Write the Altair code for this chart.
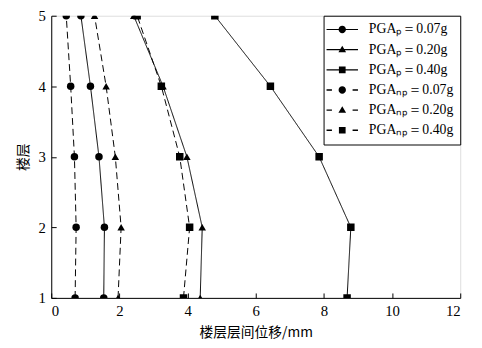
import altair as alt
import pandas as pd

floors = [1, 2, 3, 4, 5]
series_names = ["PGAₚ＝0.07g", "PGAₚ＝0.20g", "PGAₚ＝0.40g",
                "PGAₙₚ＝0.07g", "PGAₙₚ＝0.20g", "PGAₙₚ＝0.40g"]
p007 = [1.54, 1.56, 1.40, 1.15, 0.87]
p020 = [4.37, 4.43, 3.98, 3.28, 2.42]
p040 = [8.68, 8.79, 7.86, 6.43, 4.80]
np007 = [0.70, 0.73, 0.68, 0.57, 0.44]
np020 = [1.96, 2.05, 1.88, 1.61, 1.27]
np040 = [3.88, 4.06, 3.77, 3.23, 2.52]
x_ticks = [0, 2, 4, 6, 8, 10, 12]
y_ticks = [1, 2, 3, 4, 5]

W, H = 416, 287

values = [p007, p020, p040, np007, np020, np040]
rows = []
for name, vals in zip(series_names, values):
    for f, v in zip(floors, vals):
        rows.append({"series": name, "floor": f, "disp": v})
df = pd.DataFrame(rows)

serif = "Liberation Serif"
cjk = "Noto Sans CJK SC"

xscale = alt.Scale(domain=[0, 12], nice=False)
yscale = alt.Scale(domain=[1, 5], nice=False)

X = alt.X("disp:Q", scale=xscale,
          axis=alt.Axis(values=x_ticks, title="楼层层间位移/mm", titleFont=cjk,
                        titleFontSize=14, titleFontWeight="normal", titleColor="black",
                        titlePadding=7,
                        labelFont=serif, labelFontSize=15, labelColor="black",
                        labelPadding=6, ticks=False, domainColor="black", grid=False))
Y = alt.Y("floor:Q", scale=yscale,
          axis=alt.Axis(values=y_ticks, title="楼层", titleFont=cjk,
                        titleFontSize=14, titleFontWeight="normal", titleColor="black",
                        titlePadding=8,
                        labelFont=serif, labelFontSize=15, labelColor="black",
                        labelPadding=6, ticks=False, domainColor="black", grid=False))

# inward ticks: secondary axes on the opposite side, shifted onto the plot edge
X_in = alt.X("disp:Q", scale=xscale,
             axis=alt.Axis(orient="top", offset=-H, values=x_ticks, labels=False,
                           domain=False, grid=False, title=None, ticks=True,
                           tickSize=5, tickColor="black", tickWidth=1))
Y_in = alt.Y("floor:Q", scale=yscale,
             axis=alt.Axis(orient="right", offset=-W, values=y_ticks, labels=False,
                           domain=False, grid=False, title=None, ticks=True,
                           tickSize=5, tickColor="black", tickWidth=1))

dashes = [[1, 0], [1, 0], [1, 0], [7, 4], [7, 4], [7, 4]]
widths = [1, 1, 1, 1.8, 1.8, 1.8]
shapes = ["circle", "triangle-up", "square", "circle", "triangle-up", "square"]

# legend symbols: line pieces + marker, as filled paths
solid = "M-3.2,-0.12H3.2V0.12H-3.2Z"
dash = "M-3.2,-0.15H-2.1V0.15H-3.2ZM2.1,-0.15H3.2V0.15H2.1Z"
circ = "M-0.75,0A0.75,0.75 0 1,1 0.75,0A0.75,0.75 0 1,1 -0.75,0Z"
tri = "M0,-0.8L0.78,0.55L-0.78,0.55Z"
sq = "M-0.68,-0.68H0.68V0.68H-0.68Z"
legend_paths = [solid + circ, solid + tri, solid + sq, dash + circ, dash + tri, dash + sq]

base = alt.Chart(df)

lines = base.mark_line(color="black", clip=True).encode(
    x=X, y=Y, detail="series:N",
    order=alt.Order("floor:Q"),
    strokeDash=alt.StrokeDash("series:N", scale=alt.Scale(domain=series_names, range=dashes), legend=None),
    strokeWidth=alt.StrokeWidth("series:N", scale=alt.Scale(domain=series_names, range=widths), legend=None),
)

points = base.mark_point(filled=True, color="black", size=58, opacity=1, clip=True).encode(
    x=X_in, y=Y_in,
    shape=alt.Shape("series:N", scale=alt.Scale(domain=series_names, range=shapes), legend=None),
)

legend_layer = base.transform_filter("false").mark_point(
    filled=True, color="black", size=100, opacity=1).encode(
    x=alt.X("disp:Q", scale=xscale, axis=None),
    y=alt.Y("floor:Q", scale=yscale, axis=None),
    shape=alt.Shape("series:N", scale=alt.Scale(domain=series_names, range=legend_paths),
                    legend=alt.Legend(title=None, orient="top-right", offset=0,
                                      padding=7, strokeColor="black", fillColor="white",
                                      cornerRadius=0, symbolSize=100, symbolOffset=5,
                                      labelOffset=20, labelFont=serif, labelFontSize=14,
                                      labelColor="black", rowPadding=6.5,
                                      symbolFillColor="black", symbolStrokeColor="black",
                                      symbolStrokeWidth=0)),
)

chart = alt.layer(lines, points, legend_layer).resolve_scale(
    shape="independent"
).resolve_axis(x="independent", y="independent").properties(
    width=W, height=H, autosize="none",
    padding={"left": 44, "top": 5, "right": 14, "bottom": 42},
).configure_view(stroke="black", strokeWidth=1).configure(background="white")

chart.save("out.html", embed_options={"renderer": "svg", "actions": False})
